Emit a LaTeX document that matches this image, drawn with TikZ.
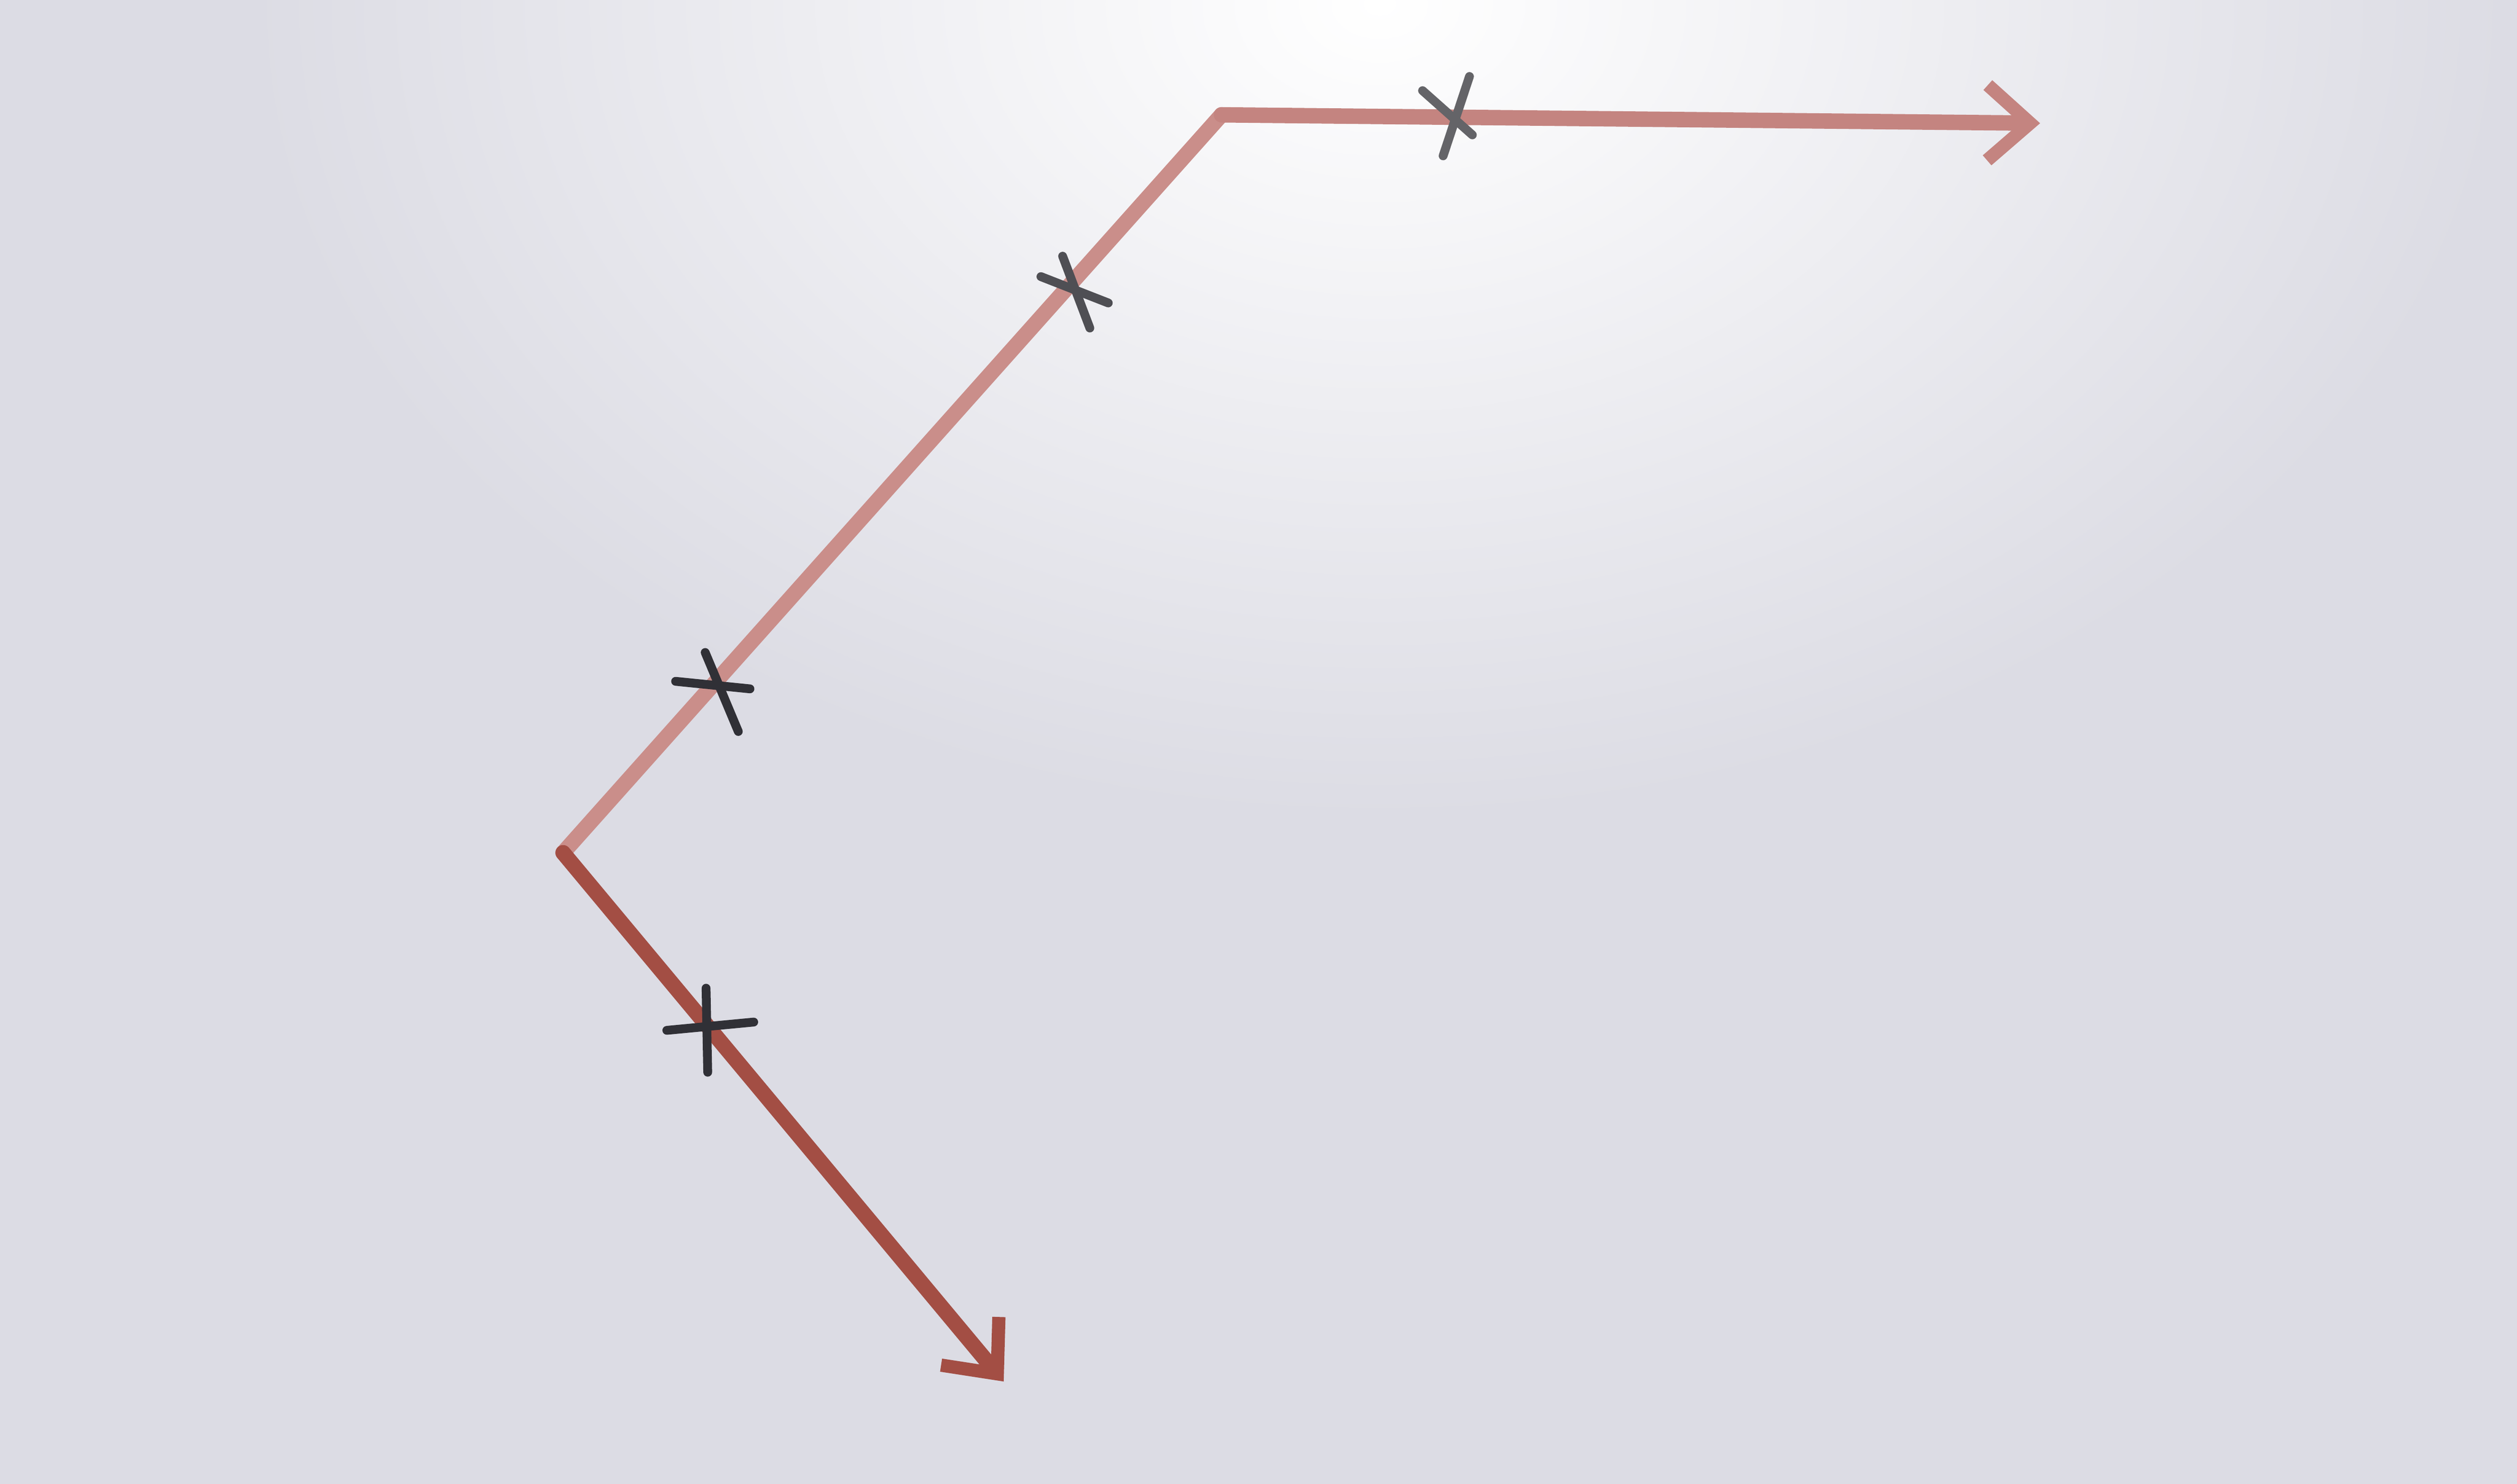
\documentclass[tikz,border=0pt]{standalone}
\usepackage{tikz}
\usetikzlibrary{arrows.meta}
\definecolor{paper}{RGB}{220,220,228}
\definecolor{crayon}{RGB}{163,78,68}
\definecolor{crayonlight}{RGB}{202,142,138}
\definecolor{pencil}{RGB}{48,48,54}
\tikzset{
	redline/.style={line width=3.5pt, line cap=round, line join=miter},
	tickmark/.style={line width=2pt, line cap=round, color=pencil},
	barb/.style={-{Straight Barb[length=3.4mm,width=6mm,line width=3pt]}}
}

\begin{document}
\begin{tikzpicture}
			%%%%% START %%%%%
			\useasboundingbox (0, 0) rectangle (20.07, 11.833);
			\fill[paper] (0, 0) rectangle (20.07, 11.833);
			\begin{scope}
				\clip (0, 0) rectangle (20.07, 11.833);
				\shade[inner color=white, outer color=paper] (11, 11.8) ellipse (9 and 6.5);
			\end{scope}
			
			\coordinate (bottom) at (8.003, 0.817);
			\coordinate (left) at (4.49, 5.033);
			\coordinate (top) at (9.74, 10.917);
			\coordinate (right) at (16.267, 10.85);
			
			\draw[redline, crayonlight] (left) -- (top);
			\draw[redline, barb, color=crayonlight!85!crayon] (top) -- (right);
			\draw[redline, barb, crayon] (left) -- (bottom);
			
			\draw[tickmark] (5.317, 3.617) -- (6.01, 3.683);
			\draw[tickmark] (5.63, 3.953) -- (5.643, 3.283);
			
			\draw[tickmark] (5.387, 6.4) -- (5.98, 6.34);
			\draw[tickmark] (5.623, 6.63) -- (5.887, 6.0);
			
			\draw[tickmark, pencil!85] (8.3, 9.627) -- (8.837, 9.417);
			\draw[tickmark, pencil!85] (8.473, 9.79) -- (8.69, 9.217);
			
			\draw[tickmark, pencil!75] (11.717, 11.223) -- (11.507, 10.59);
			\draw[tickmark, pencil!75] (11.343, 11.11) -- (11.74, 10.757);
			%%%%% END %%%%%
\end{tikzpicture}
\end{document}
